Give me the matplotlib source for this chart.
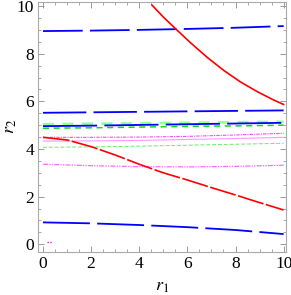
import numpy as np
import matplotlib.pyplot as plt
from matplotlib.ticker import MultipleLocator

plt.rcParams['mathtext.fontset'] = 'stix'
plt.rcParams['font.family'] = 'Liberation Serif'

# ------- data
xs = [0, 2, 4, 6, 8, 10]
top_blue = [8.95, 8.97, 9.00, 9.04, 9.09, 9.16]
mid_blue = [5.52, 5.54, 5.56, 5.58, 5.60, 5.62]
low_blue = [4.96, 4.98, 5.01, 5.04, 5.07, 5.10]
green_dark = [4.87, 4.89, 4.92, 4.95, 4.97, 5.00]
green_light = [5.04, 5.06, 5.08, 5.10, 5.12, 5.14]
magenta = [4.49, 4.49, 4.50, 4.53, 4.59, 4.66]
pink = [4.33, 4.34, 4.36, 4.40, 4.44, 4.49]
green_thin = [4.07, 4.09, 4.12, 4.16, 4.20, 4.24]
magenta_dd = [3.36, 3.30, 3.26, 3.25, 3.27, 3.32]
bottom_blue = [0.92, 0.88, 0.81, 0.72, 0.60, 0.43]

xs_red = [0, 1, 2, 3, 4, 5, 6, 7, 8, 9, 10]
red_dashed = [4.49, 4.38, 4.10, 3.75, 3.36, 3.00, 2.70, 2.38, 2.07, 1.75, 1.44]

xs_red_solid = [4.53, 5.0, 5.54, 6.12, 6.82, 7.51, 8.2, 8.9, 9.58, 10.0]
red_solid = [10.04, 9.54, 9.02, 8.47, 7.85, 7.30, 6.82, 6.41, 6.06, 5.87]

xs_stub = [0.15, 0.39]
stub = [0.08, 0.08]

# ------- plot
fig = plt.figure(figsize=(2.91, 2.95), dpi=100)
ax = fig.add_axes([0.132, 0.146, 0.851, 0.848])

ax.plot(xs, green_light, color='#99ff99', lw=2.0, dashes=(4, 3))
ax.plot(xs, green_dark, color='#11dd11', lw=1.1, dashes=(4, 3))
ax.plot(xs, green_thin, color='#66ee66', lw=0.7, dashes=(4, 2))
ax.plot(xs, pink, color='#ff99ff', lw=0.8)
ax.plot(xs, magenta, color='#ff44ff', lw=0.8, dashes=(3, 1, 1, 1))
ax.plot(xs, magenta_dd, color='#ff66ff', lw=0.9, dashes=(4, 1, 1, 1, 1, 1))
ax.plot(xs_stub, stub, color='#ff00ff', lw=1.0, dashes=(1, 1))

ax.plot(xs, top_blue, color='#0000ff', lw=1.3, dashes=(22, 4))
ax.plot(xs, mid_blue, color='#0000ff', lw=1.3, dashes=(24, 4))
ax.plot(xs, low_blue, color='#0000ff', lw=1.3, dashes=(30, 4))
ax.plot(xs, bottom_blue, color='#0000ff', lw=1.3, dashes=(26, 4))

ax.plot(xs_red, red_dashed, color='#ff0000', lw=1.2, dashes=(16, 1.5))
ax.plot(xs_red_solid, red_solid, color='#ff0000', lw=1.2)

ax.set_xlim(-0.19, 10.1)
ax.set_ylim(-0.32, 10.18)

ax.xaxis.set_major_locator(MultipleLocator(2))
ax.yaxis.set_major_locator(MultipleLocator(2))
ax.xaxis.set_minor_locator(MultipleLocator(0.5))
ax.yaxis.set_minor_locator(MultipleLocator(0.5))
ax.tick_params(which='both', direction='in', top=True, right=True,
               color='#999999', labelsize=12.5, pad=3)
ax.tick_params(which='major', length=4, width=0.7)
ax.tick_params(which='minor', length=2.2, width=0.6)
ax.tick_params(labeltop=False, labelright=False)

for s in ax.spines.values():
    s.set_color('#aaaaaa')
    s.set_linewidth(0.8)

ax.set_xlabel('$r_1$', fontsize=13, labelpad=4)
ax.set_ylabel('$r_2$', fontsize=13)
ax.yaxis.set_label_coords(-0.08, 0.5)

plt.savefig('out.png', dpi=100)
